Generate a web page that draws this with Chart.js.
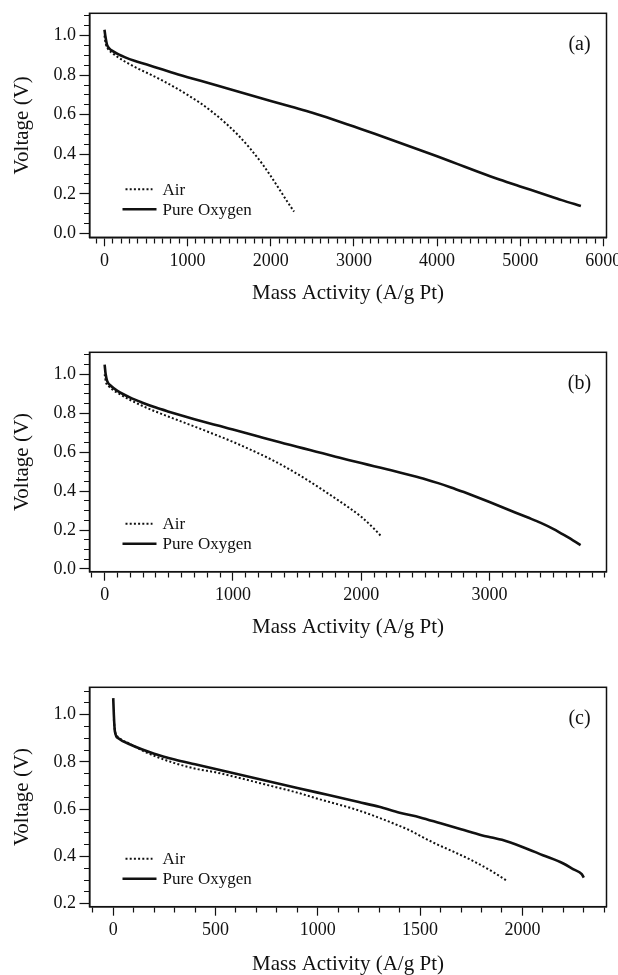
<!DOCTYPE html>
<html>
<head>
<meta charset="utf-8">
<script src="https://cdn.jsdelivr.net/npm/chart.js@4.4.1/dist/chart.umd.min.js"></script>
<style>
  body { margin: 0; background: #fff; }
  #wrap { position: relative; width: 618px; height: 975px; }
  canvas { position: absolute; left: 0; }
</style>
</head>
<body>
<div id="wrap">
  <canvas id="chartA" width="618" height="304" style="top:0px"></canvas>
  <canvas id="chartB" width="618" height="318" style="top:320px"></canvas>
  <canvas id="chartC" width="618" height="335" style="top:640px"></canvas>
</div>
<script>
// series names and panel tags
const seriesNames = ['Air', 'Pure Oxygen'];
const panelTags = ['(a)', '(b)', '(c)'];
const xTitle = 'Mass Activity (A/g Pt)';
const yTitle = 'Voltage (V)';

// panel (a)
const airAX = [0, 15, 40, 100, 166, 250, 400, 550, 700, 850, 1000, 1150, 1300, 1450, 1600, 1750, 1900, 2000, 2100, 2200, 2280];
const airAY = [1.0, 0.96, 0.935, 0.91, 0.89, 0.868, 0.834, 0.804, 0.772, 0.738, 0.70, 0.66, 0.613, 0.56, 0.50, 0.43, 0.35, 0.29, 0.225, 0.16, 0.11];
const oxyAX = [0, 10, 30, 60, 100, 170, 250, 360, 500, 650, 800, 1000, 1250, 1500, 1750, 2000, 2250, 2500, 2750, 3000, 3250, 3500, 3750, 4000, 4250, 4500, 4750, 5000, 5250, 5500, 5730];
const oxyAY = [1.03, 1.0, 0.955, 0.935, 0.922, 0.905, 0.89, 0.873, 0.855, 0.835, 0.815, 0.79, 0.76, 0.73, 0.70, 0.67, 0.64, 0.61, 0.576, 0.54, 0.504, 0.466, 0.428, 0.39, 0.35, 0.31, 0.272, 0.237, 0.203, 0.168, 0.138];

// panel (b)
const airBX = [0, 10, 30, 60, 100, 200, 300, 400, 500, 600, 700, 800, 900, 1000, 1100, 1200, 1300, 1400, 1500, 1600, 1700, 1800, 1900, 2000, 2100, 2150];
const airBY = [1.0, 0.96, 0.94, 0.922, 0.905, 0.868, 0.836, 0.808, 0.782, 0.757, 0.732, 0.706, 0.68, 0.653, 0.624, 0.594, 0.562, 0.527, 0.489, 0.449, 0.406, 0.362, 0.317, 0.268, 0.207, 0.172];
const oxyBX = [0, 8, 20, 50, 100, 200, 300, 400, 500, 600, 700, 800, 900, 1000, 1100, 1200, 1300, 1400, 1500, 1600, 1700, 1800, 1900, 2000, 2100, 2200, 2300, 2400, 2500, 2600, 2700, 2800, 2900, 3000, 3100, 3200, 3300, 3400, 3500, 3600, 3710];
const oxyBY = [1.05, 1.0, 0.965, 0.94, 0.915, 0.88, 0.853, 0.829, 0.808, 0.788, 0.769, 0.751, 0.734, 0.716, 0.698, 0.68, 0.662, 0.645, 0.628, 0.611, 0.594, 0.577, 0.56, 0.544, 0.528, 0.512, 0.496, 0.479, 0.461, 0.441, 0.419, 0.395, 0.37, 0.344, 0.317, 0.29, 0.264, 0.237, 0.205, 0.167, 0.123];

// panel (c)
const airCX = [3, 6, 10, 25, 83, 150, 218, 300, 410, 500, 603, 700, 796, 900, 1000, 1100, 1181, 1280, 1374, 1450, 1500, 1580, 1663, 1760, 1855, 1925];
const airCY = [0.98, 0.95, 0.925, 0.905, 0.876, 0.845, 0.82, 0.795, 0.77, 0.756, 0.735, 0.714, 0.693, 0.67, 0.644, 0.62, 0.6, 0.57, 0.538, 0.51, 0.487, 0.452, 0.42, 0.38, 0.335, 0.296];
const oxyCX = [0, 3, 8, 25, 80, 200, 300, 400, 500, 600, 700, 800, 900, 1000, 1100, 1200, 1300, 1400, 1500, 1600, 1700, 1800, 1850, 1900, 2000, 2100, 2200, 2250, 2290, 2300];
const oxyCY = [1.07, 1.0, 0.93, 0.90, 0.875, 0.835, 0.81, 0.79, 0.77, 0.75, 0.73, 0.71, 0.69, 0.67, 0.65, 0.63, 0.61, 0.585, 0.565, 0.54, 0.515, 0.49, 0.48, 0.47, 0.44, 0.405, 0.37, 0.345, 0.325, 0.31];

const serif = "'Liberation Serif', 'Times New Roman', serif";

function toPts(xs, ys) {
  return xs.map((x, i) => ({ x: x, y: ys[i] }));
}

function onStep(v, step) {
  const r = v / step;
  return Math.abs(r - Math.round(r)) < 1e-6;
}

// box around the plot area plus the legend and panel tag
const decor = {
  id: 'decor',
  afterDatasetsDraw(chart, args, opts) {
    const ctx = chart.ctx;
    const a = chart.chartArea;
    ctx.save();
    ctx.strokeStyle = '#111';
    ctx.lineWidth = 1.5;
    ctx.strokeRect(a.left, a.top, a.right - a.left, a.bottom - a.top);

    ctx.fillStyle = '#111';
    ctx.font = '20px ' + serif;
    ctx.textAlign = 'center';
    ctx.textBaseline = 'middle';
    ctx.fillText(opts.tag, a.right - 27, a.top + 31);

    // legend
    ctx.font = '17px ' + serif;
    ctx.textAlign = 'left';
    const rows = [a.bottom - 48, a.bottom - 28];
    chart.data.datasets.forEach((ds, i) => {
      ctx.beginPath();
      ctx.setLineDash(ds.borderDash || []);
      ctx.lineWidth = ds.borderWidth;
      ctx.strokeStyle = ds.borderColor;
      ctx.moveTo(a.left + (i ? 33 : 36), rows[i]);
      ctx.lineTo(a.left + (i ? 67 : 63), rows[i]);
      ctx.stroke();
      ctx.setLineDash([]);
      ctx.fillText(ds.label, a.left + 73, rows[i] + 1);
    });
    ctx.restore();
  }
};

function makePanel(id, p) {
  new Chart(document.getElementById(id), {
    type: 'line',
    data: {
      datasets: [
        {
          label: seriesNames[0],
          data: toPts(p.airX, p.airY),
          borderColor: '#111',
          borderWidth: 2,
          borderDash: [2, 2.2],
          pointRadius: 0,
          cubicInterpolationMode: 'monotone',
          fill: false
        },
        {
          label: seriesNames[1],
          data: toPts(p.oxyX, p.oxyY),
          borderColor: '#111',
          borderWidth: 2.6,
          pointRadius: 0,
          cubicInterpolationMode: 'monotone',
          fill: false
        }
      ]
    },
    options: {
      responsive: false,
      animation: false,
      layout: { padding: { left: 11.7, right: 11.5, top: p.top, bottom: 0 } },
      plugins: {
        legend: { display: false },
        tooltip: { enabled: false },
        decor: { tag: p.tag }
      },
      scales: {
        x: {
          type: 'linear',
          min: p.xMin,
          max: p.xMax,
          border: { display: true, color: '#111', width: 1.5 },
          grid: {
            drawOnChartArea: false,
            drawTicks: true,
            tickLength: 9,
            tickColor: '#111',
            tickWidth: 1.2,
            tickBorderDash: c => onStep(c.tick.value, p.xMajor) ? [] : [5, 100]
          },
          ticks: {
            stepSize: 100,
            autoSkip: false,
            includeBounds: false,
            maxRotation: 0,
            padding: 4,
            color: '#111',
            font: { family: serif, size: 18 },
            callback: v => onStep(v, p.xMajor) ? String(Math.round(v)) : ''
          },
          title: {
            display: true,
            text: xTitle,
            color: '#111',
            padding: 0,
            font: { family: serif, size: 21, lineHeight: 1 }
          },
          afterFit: s => { s.height = p.xh; s.paddingLeft = 0; s.paddingRight = 0; }
        },
        y: {
          min: p.yMin,
          max: p.yMax,
          border: { display: true, color: '#111', width: 1.5 },
          grid: {
            drawOnChartArea: false,
            drawTicks: true,
            tickLength: 10,
            tickColor: '#111',
            tickWidth: 1.2,
            tickBorderDash: c => onStep(c.tick.value, 0.2) ? [] : [0, 4.5, 5, 100]
          },
          ticks: {
            stepSize: 0.05,
            autoSkip: false,
            includeBounds: false,
            padding: 3.5,
            color: '#111',
            font: { family: serif, size: 18 },
            callback: v => onStep(v, 0.2) ? v.toFixed(1) : ''
          },
          title: {
            display: true,
            text: yTitle,
            color: '#111',
            padding: 0,
            font: { family: serif, size: 21, lineHeight: 1 }
          },
          afterFit: s => { s.width = 77.8; s.paddingTop = 0; s.paddingBottom = 0; }
        }
      }
    },
    plugins: [decor]
  });
}

// x ranges keep (max - min) / 100 away from a whole number so ticks land on hundreds
makePanel('chartA', {
  airX: airAX, airY: airAY, oxyX: oxyAX, oxyY: oxyAY, tag: panelTags[0],
  xMin: -180, xMax: 6038, xMajor: 1000, yMin: -0.02, yMax: 1.113, top: 13.3, xh: 66.7
});
makePanel('chartB', {
  airX: airBX, airY: airBY, oxyX: oxyBX, oxyY: oxyBY, tag: panelTags[1],
  xMin: -118, xMax: 3912, xMajor: 1000, yMin: -0.014, yMax: 1.113, top: 32.3, xh: 66.3
});
makePanel('chartC', {
  airX: airCX, airY: airCY, oxyX: oxyCX, oxyY: oxyCY, tag: panelTags[2],
  xMin: -116, xMax: 2411, xMajor: 500, yMin: 0.187, yMax: 1.116, top: 47.3, xh: 68.3
});
</script>
</body>
</html>
